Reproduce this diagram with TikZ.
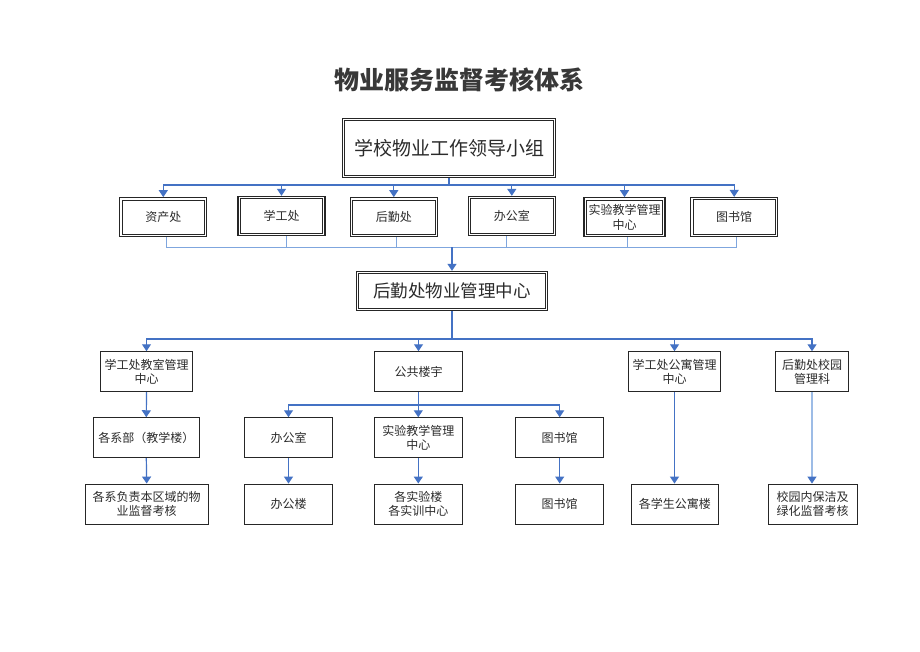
\documentclass[tikz,border=0pt]{standalone}
\usepackage{fontspec}
\setmainfont{Noto Sans CJK SC}
\usetikzlibrary{arrows.meta}
\definecolor{ablue}{HTML}{4472C4}
\definecolor{lblue}{HTML}{7FA6DE}
\definecolor{lblue2}{HTML}{9DBCE6}
\definecolor{ink}{HTML}{2B2B2B}
\definecolor{tink}{HTML}{383838}
\definecolor{bord}{HTML}{262626}
\tikzset{
  box/.style={draw=bord, line width=0.9pt, fill=white, text=ink, align=center, inner sep=0pt,
    minimum height=40pt, font=\fontsize{12}{14.5}\selectfont},
  dbox/.style={box, line width=1.3pt},
  inner frame/.style={draw=bord, line width=0.8pt},
  conn/.style={draw=ablue, line width=1.2pt},
  arr/.style={conn, -{Triangle[width=9pt,length=7pt]}},
  lite/.style={draw=lblue, line width=1pt},
  arrlite/.style={draw=lblue2, line width=1.2pt, -{Triangle[width=9pt,length=7pt,color=ablue,fill=ablue]}},
}
\newcommand\innerframe[1]{\draw[inner frame] ([xshift=2.9pt,yshift=-2.9pt]#1.north west) rectangle ([xshift=-2.9pt,yshift=2.9pt]#1.south east);}
\begin{document}
\begin{tikzpicture}[x=1pt,y=-1pt]
\useasboundingbox[fill=white] (0,0) rectangle (920,651);

% title
\node[text=tink, font=\fontsize{25}{28}\selectfont\bfseries] (title) at (459,80) {物业服务监督考核体系};

% top box
\node[dbox, minimum width=213pt, minimum height=59pt, font=\fontsize{19}{22}\selectfont] (top) at (449,148) {学校物业工作领导小组};

% row 2
\node[dbox, minimum width=87pt, minimum height=39pt] (zc) at (163.3,217.3) {资产处};
\node[dbox, minimum width=87pt, minimum height=39pt] (xg) at (281.5,216) {学工处};
\node[dbox, minimum width=87pt, minimum height=39pt] (hq) at (393.8,217.3) {后勤处};
\node[dbox, minimum width=87pt, minimum height=39pt] (bg) at (511.8,216) {办公室};
\node[dbox, minimum width=81pt, minimum height=39pt] (sy) at (624.5,217.3) {实验教学管理\\中心};
\node[dbox, minimum width=87pt, minimum height=39pt] (ts) at (734.2,217) {图书馆};

% center box
\node[dbox, minimum width=191pt, minimum height=39pt, font=\fontsize{17.5}{20}\selectfont] (hc) at (452,291) {后勤处物业管理中心};

\foreach \n in {top,zc,xg,hq,bg,sy,ts,hc}{\innerframe{\n}}

% connectors top -> row 2
\coordinate (tbus) at (449,185);
\draw[conn] (top.south) -- (tbus);
\foreach \n in {zc,xg,hq,bg,sy,ts}{
  \draw[arr] (tbus) -| (\n.north);
}

% row 2 -> center
\coordinate (bus) at (452,247.3);
\draw[lite] ([xshift=3.4pt]zc.south) |- (bus);
\draw[lite] ([xshift=5.2pt]xg.south) |- (bus);
\draw[lite] ([xshift=2.9pt]hq.south) |- (bus);
\draw[lite] ([xshift=-5.1pt]bg.south) |- (bus);
\draw[lite] ([xshift=2.5pt]sy.south) |- (bus);
\draw[lite] ([xshift=2.5pt]ts.south) |- (bus);
\draw[arr] (bus) -- (hc.north);

% row 3
\node[box, minimum width=91.6pt] (ra) at (146.5,371.7) {学工处教室管理\\中心};
\node[box, minimum width=88.4pt] (rb) at (418.5,371.7) {公共楼宇};
\node[box, minimum width=91.6pt] (rc) at (674.5,371.7) {学工处公寓管理\\中心};
\node[box, minimum width=73.4pt] (rd) at (812,371.7) {后勤处校园\\管理科};

\coordinate (mbus) at (452,339);
\draw[conn] (hc.south) -- (mbus);
\foreach \n in {ra,rb,rc,rd}{
  \draw[arr] (mbus) -| (\n.north);
}

% row 4
\node[box, minimum width=106pt] (sa) at (146.3,437.7) {各系部（教学楼）};
\node[box, minimum width=87.6pt] (sb) at (288.5,437.7) {办公室};
\node[box, minimum width=88pt] (sc) at (418.3,437.7) {实验教学管理\\中心};
\node[box, minimum width=88pt] (sd) at (559.7,437.7) {图书馆};

\draw[arr] (ra.south) -- (sa.north);
\coordinate (pbus) at (418.5,405);
\draw[conn] (rb.south) -- (pbus);
\foreach \n in {sb,sc,sd}{
  \draw[arr] (pbus) -| (\n.north);
}

% row 5
\node[box, minimum width=123.3pt] (ta) at (146.7,504) {各系负责本区域的物\\业监督考核};
\node[box, minimum width=87.6pt] (tb) at (288.5,504) {办公楼};
\node[box, minimum width=88pt] (tc) at (418.3,504) {各实验楼\\各实训中心};
\node[box, minimum width=88pt] (td) at (559.7,504) {图书馆};
\node[box, minimum width=87.7pt] (te) at (674.9,504) {各学生公寓楼};
\node[box, minimum width=88.7pt] (tf) at (812.7,504) {校园内保洁及\\绿化监督考核};

\draw[arr] (sa.south) -- (ta.north);
\draw[arr] (sb.south) -- (tb.north);
\draw[arr] (sc.south) -- (tc.north);
\draw[arr] (sd.south) -- (td.north);
\draw[arr] (rc.south) -- (rc.south |- te.north);
\draw[arrlite] (rd.south) -- (rd.south |- tf.north);
\end{tikzpicture}
\end{document}
